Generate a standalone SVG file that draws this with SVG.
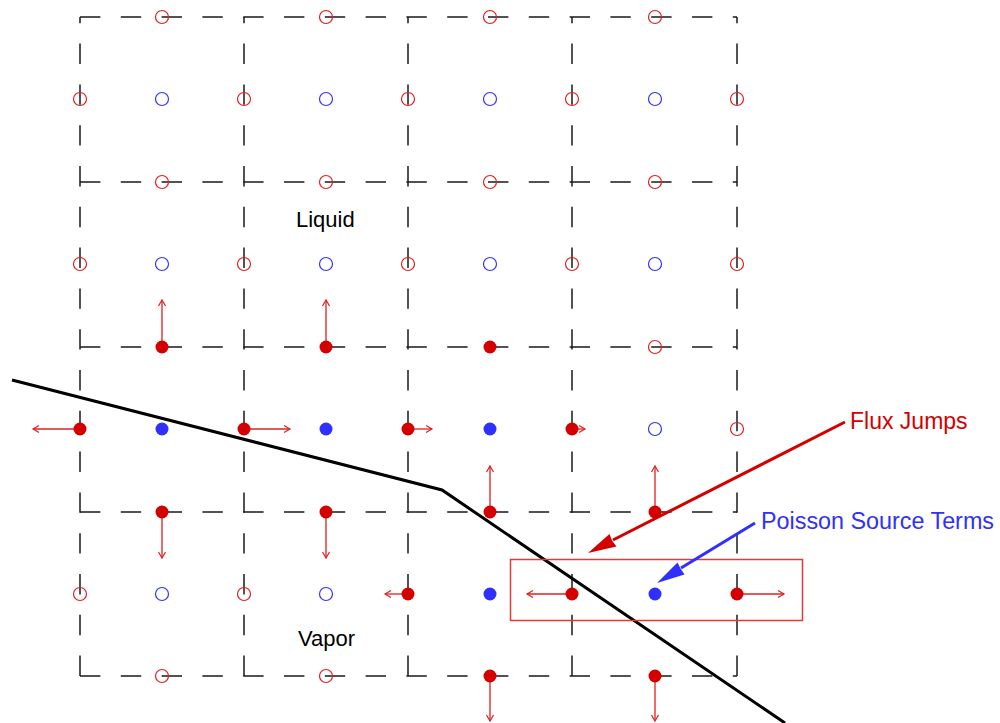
<svg xmlns="http://www.w3.org/2000/svg" width="1000" height="723" viewBox="0 0 1000 723">
<style>
.grid{fill:none;stroke:#1a1a1a;stroke-width:1.5;stroke-dasharray:20.4 20.4}
.ro{fill:none;stroke:#e02020;stroke-width:1.2}
.bo{fill:none;stroke:#3333ff;stroke-width:1.2}
.rf{fill:#d40000}
.bf{fill:#2f2fff}
.sa{stroke:#e02020;stroke-width:1.3;fill:none;marker-end:url(#v)}
.lbl{font-family:"Liberation Sans",Arial,sans-serif;font-size:22px}
.call{font-family:"Liberation Sans",Arial,sans-serif;font-size:23px}
</style>
<defs>
<marker id="v" markerUnits="userSpaceOnUse" markerWidth="10" markerHeight="10" refX="6" refY="3.5" orient="auto" overflow="visible">
<path d="M0,0 L6,3.5 L0,7" fill="none" stroke="#e02020" stroke-width="1.2"/>
</marker>
</defs>
<rect width="1000" height="723" fill="#fff"/>
<g id="grid">
<path class="grid" d="M80,17H737M80,182H737M80,347H737M80,512H737M80,676H737"/>
<path class="grid" d="M80,676V17M244,676V17M408,676V17M572,676V17M737,676V17"/>
</g>
<g id="open-points">
<g class="ro">
<circle cx="162" cy="17" r="6.5"/><circle cx="326" cy="17" r="6.5"/><circle cx="490" cy="17" r="6.5"/><circle cx="655" cy="17" r="6.5"/>
<circle cx="80" cy="99" r="6.5"/><circle cx="244" cy="99" r="6.5"/><circle cx="408" cy="99" r="6.5"/><circle cx="572" cy="99" r="6.5"/><circle cx="737" cy="99" r="6.5"/>
<circle cx="162" cy="182" r="6.5"/><circle cx="326" cy="182" r="6.5"/><circle cx="490" cy="182" r="6.5"/><circle cx="655" cy="182" r="6.5"/>
<circle cx="80" cy="264" r="6.5"/><circle cx="244" cy="264" r="6.5"/><circle cx="408" cy="264" r="6.5"/><circle cx="572" cy="264" r="6.5"/><circle cx="737" cy="264" r="6.5"/>
<circle cx="655" cy="347" r="6.5"/>
<circle cx="737" cy="429" r="6.5"/>
<circle cx="80" cy="594" r="6.5"/><circle cx="244" cy="594" r="6.5"/>
<circle cx="162" cy="676" r="6.5"/><circle cx="326" cy="676" r="6.5"/>
</g>
<g class="bo">
<circle cx="162" cy="99" r="6.5"/><circle cx="326" cy="99" r="6.5"/><circle cx="490" cy="99" r="6.5"/><circle cx="655" cy="99" r="6.5"/>
<circle cx="162" cy="264" r="6.5"/><circle cx="326" cy="264" r="6.5"/><circle cx="490" cy="264" r="6.5"/><circle cx="655" cy="264" r="6.5"/>
<circle cx="655" cy="429" r="6.5"/>
<circle cx="162" cy="594" r="6.5"/><circle cx="326" cy="594" r="6.5"/>
</g>
</g>
<g id="flux-arrows">
<path class="sa" d="M162,347V300"/>
<path class="sa" d="M326,347V300"/>
<path class="sa" d="M80,429H33"/>
<path class="sa" d="M244,429H290"/>
<path class="sa" d="M408,429H432"/>
<path class="sa" d="M572,429H585"/>
<path class="sa" d="M162,512V558"/>
<path class="sa" d="M326,512V558"/>
<path class="sa" d="M490,512V466"/>
<path class="sa" d="M655,512V466"/>
<path class="sa" d="M408,594H385"/>
<path class="sa" d="M572,594H527"/>
<path class="sa" d="M737,594H784"/>
<path class="sa" d="M490,676V721"/>
<path class="sa" d="M655,676V721"/>
</g>
<g id="filled-points">
<g class="rf">
<circle cx="162" cy="347" r="6.5"/><circle cx="326" cy="347" r="6.5"/><circle cx="490" cy="347" r="6.5"/>
<circle cx="80" cy="429" r="6.5"/><circle cx="244" cy="429" r="6.5"/><circle cx="408" cy="429" r="6.5"/><circle cx="572" cy="429" r="6.5"/>
<circle cx="162" cy="512" r="6.5"/><circle cx="326" cy="512" r="6.5"/><circle cx="490" cy="512" r="6.5"/><circle cx="655" cy="512" r="6.5"/>
<circle cx="408" cy="594" r="6.5"/><circle cx="572" cy="594" r="6.5"/><circle cx="737" cy="594" r="6.5"/>
<circle cx="490" cy="676" r="6.5"/><circle cx="655" cy="676" r="6.5"/>
</g>
<g class="bf">
<circle cx="162" cy="429" r="6.5"/><circle cx="326" cy="429" r="6.5"/><circle cx="490" cy="429" r="6.5"/>
<circle cx="490" cy="594" r="6.5"/><circle cx="655" cy="594" r="6.5"/>
</g>
</g>
<g id="interface">
<path d="M12,380 L442,490 L785,723" fill="none" stroke="#000" stroke-width="3"/>
</g>
<g id="highlight-box">
<rect x="510.5" y="559.5" width="292" height="61" fill="none" stroke="#e03a3a" stroke-width="1.5"/>
</g>
<g id="connectors">
<path d="M845,422 L613,540" fill="none" stroke="#d40000" stroke-width="3"/>
<path d="M588,553 L616.5,546.5 L612,540.5 L609.5,534 Z" fill="#d40000"/>
<path d="M755,523 L681,568" fill="none" stroke="#2f2fff" stroke-width="3"/>
<path d="M657,583 L684.5,574.5 L680.5,568.5 L677.5,562.5 Z" fill="#2f2fff"/>
</g>
<g id="labels">
<text class="lbl" x="296" y="227" fill="#000">Liquid</text>
<text class="lbl" x="298" y="646" fill="#000">Vapor</text>
<text class="call" x="850" y="429" fill="#d40000">Flux Jumps</text>
<text class="call" x="761" y="529" fill="#2f2fff" textLength="233" lengthAdjust="spacingAndGlyphs">Poisson Source Terms</text>
</g>
</svg>
